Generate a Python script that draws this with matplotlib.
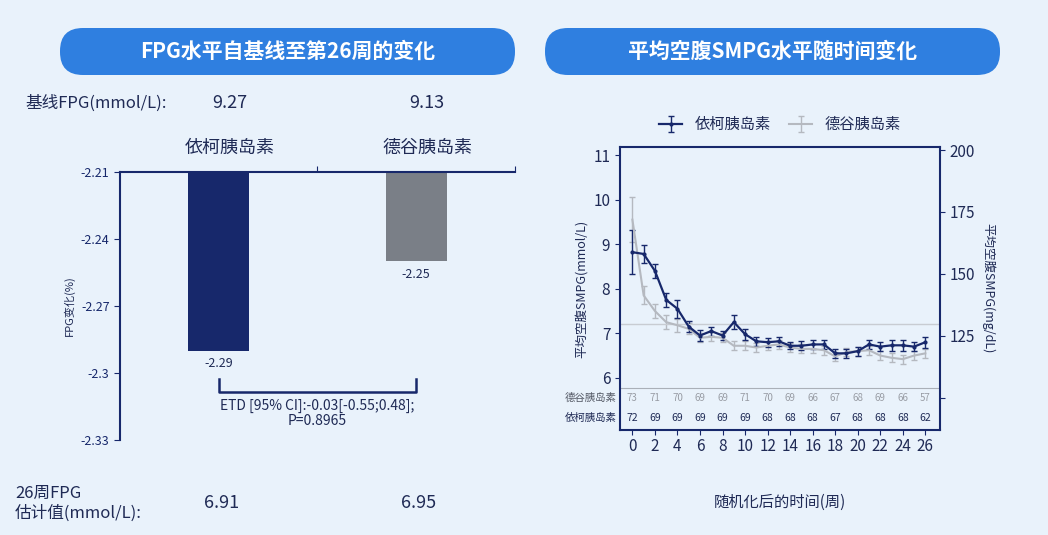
import matplotlib
matplotlib.use("Agg")
import matplotlib.pyplot as plt
from matplotlib.patches import FancyBboxPatch

plt.rcParams["font.family"] = ["Noto Sans CJK JP", "Noto Sans CJK SC", "Noto Sans CJK TC",
                               "Noto Sans CJK KR", "DejaVu Sans"]

# left panel data
groups = ["依柯胰岛素", "德谷胰岛素"]
fpg_change = [-2.29, -2.25]
baseline_fpg = ["9.27", "9.13"]
week26_fpg = ["6.91", "6.95"]
left_ticks = [-2.21, -2.24, -2.27, -2.3, -2.33]

# right panel data
weeks = list(range(27))
icodec = [8.82, 8.78, 8.4, 7.75, 7.55, 7.15, 6.95, 7.05, 6.95, 7.25, 6.98, 6.82, 6.8, 6.82,
          6.72, 6.72, 6.75, 6.75, 6.55, 6.55, 6.6, 6.75, 6.7, 6.73, 6.73, 6.7, 6.8]
icodec_err = [0.5, 0.2, 0.15, 0.15, 0.2, 0.12, 0.12, 0.1, 0.1, 0.15, 0.12, 0.1, 0.1, 0.1,
              0.08, 0.1, 0.1, 0.1, 0.1, 0.1, 0.1, 0.1, 0.1, 0.12, 0.12, 0.1, 0.12]
degludec = [9.55, 7.85, 7.5, 7.25, 7.18, 7.1, 6.9, 6.92, 6.9, 6.72, 6.72, 6.68, 6.72, 6.75,
            6.68, 6.65, 6.65, 6.62, 6.48, 6.58, 6.6, 6.62, 6.5, 6.45, 6.42, 6.5, 6.55]
degludec_err = [0.5, 0.2, 0.15, 0.15, 0.15, 0.12, 0.1, 0.1, 0.1, 0.1, 0.1, 0.1, 0.1, 0.1,
                0.1, 0.1, 0.1, 0.1, 0.1, 0.1, 0.1, 0.1, 0.1, 0.1, 0.1, 0.1, 0.1]
count_weeks = list(range(0, 27, 2))
n_degludec = [73, 71, 70, 69, 69, 71, 70, 69, 66, 67, 68, 69, 66, 57]
n_icodec = [72, 69, 69, 69, 69, 69, 68, 68, 68, 67, 68, 68, 68, 62]

navy = "#17286b"
text_c = "#1f2a55"
bg = "#e9f2fb"

fig = plt.figure(figsize=(10.48, 5.35), dpi=100, facecolor=bg)
W, H = 1048, 535


def fx(px):
    return px / W


def fy(py):
    return 1 - py / H


# background axes in pixel units for the title pills
axBg = fig.add_axes([0, 0, 1, 1])
axBg.set_xlim(0, W)
axBg.set_ylim(H, 0)
axBg.axis("off")
for x0, x1, title in [(60, 515, "FPG水平自基线至第26周的变化"), (545, 1000, "平均空腹SMPG水平随时间变化")]:
    pill = FancyBboxPatch((x0, 28), x1 - x0, 47, boxstyle="round,pad=0,rounding_size=23",
                          facecolor="#2f7fe0", edgecolor="none")
    axBg.add_patch(pill)
    axBg.text((x0 + x1) / 2, 51, title, color="white", fontsize=15, fontweight="bold",
              ha="center", va="center")

# left bar chart
axL = fig.add_axes([fx(120), fy(440), fx(395), (440 - 172) / H])
axL.set_facecolor(bg)
xpos = [0, 1]
axL.bar(xpos, [v - left_ticks[0] for v in fpg_change], bottom=left_ticks[0], width=0.31,
        color=[navy, "#7a7f87"])
axL.set_ylim(left_ticks[-1], left_ticks[0])
axL.set_xlim(-0.5, 1.5)
axL.set_yticks(left_ticks)
axL.set_yticklabels([str(t) for t in left_ticks], fontsize=9, color=text_c)
axL.xaxis.tick_top()
axL.set_xticks([0.5, 1.5])
axL.set_xticklabels([])
for s in ["right", "bottom"]:
    axL.spines[s].set_visible(False)
for s in ["left", "top"]:
    axL.spines[s].set_color(navy)
    axL.spines[s].set_linewidth(1.5)
axL.tick_params(colors=navy, length=4)
axL.set_ylabel("FPG变化(%)", fontsize=8, color=text_c)
for x, v in zip(xpos, fpg_change):
    axL.text(x, v - 0.003, str(v), ha="center", va="top", fontsize=9, color=text_c)
# bracket
axL.plot([0, 0, 1, 1], [-2.3025, -2.3085, -2.3085, -2.3025], color=navy, lw=1.8)
axL.text(0.5, -2.3115, "ETD [95% CI]:-0.03[-0.55;0.48];\nP=0.8965", ha="center", va="top",
         fontsize=10, color=text_c, linespacing=1.1)

bar_px = [220, 417]
fig.text(fx(25), fy(103), "基线FPG(mmol/L):", fontsize=12, color=text_c, va="center")
for px, g, b, w in zip(bar_px, groups, baseline_fpg, week26_fpg):
    fig.text(fx(px + 10), fy(103), b, fontsize=13, color=text_c, ha="center", va="center")
    fig.text(fx(px + 10), fy(148), g, fontsize=13, color=text_c, ha="center", va="center")
    fig.text(fx(px + 2), fy(503), w, fontsize=13, color=text_c, ha="center", va="center")
fig.text(fx(15), fy(503), "26周FPG\n估计值(mmol/L):", fontsize=12, color=text_c, va="center",
         linespacing=1.2)

# right line chart
axR = fig.add_axes([fx(620), fy(430), fx(320), (430 - 147) / H])
axR.set_facecolor(bg)
axR.errorbar(weeks, degludec, yerr=degludec_err, color="#b5b9c0", lw=1.5, capsize=2,
             elinewidth=1, label="德谷胰岛素")
axR.errorbar(weeks, icodec, yerr=icodec_err, color=navy, lw=1.6, capsize=2, elinewidth=1,
             label="依柯胰岛素", marker="o", markersize=2)
axR.axhline(7.2, color="#c8ccd2", lw=1)
axR.axhline(5.78, color="#aab0b8", lw=0.8)
axR.set_ylim(4.83, 11.18)
axR.set_xlim(-1.1, 27.3)
axR.set_yticks([6, 7, 8, 9, 10, 11])
axR.set_xticks(count_weeks)
axR.tick_params(axis="x", labelsize=11, colors=navy, labelcolor=text_c, pad=2)
axR.tick_params(axis="y", labelsize=11, colors=navy, labelcolor=text_c)
for s in axR.spines.values():
    s.set_color(navy)
    s.set_linewidth(1.5)
axR.set_ylabel("平均空腹SMPG(mmol/L)", fontsize=9, color=text_c)
for x, a, b in zip(count_weeks, n_degludec, n_icodec):
    axR.text(x, 5.55, str(a), ha="center", va="center", fontsize=7, color="#999da5")
    axR.text(x, 5.1, str(b), ha="center", va="center", fontsize=7.5, color=text_c)
axR.text(-1.4, 5.55, "德谷胰岛素", ha="right", va="center", fontsize=7.5, color="#555a66")
axR.text(-1.4, 5.1, "依柯胰岛素", ha="right", va="center", fontsize=7.5, color=text_c)
axR.set_xlabel("随机化后的时间(周)", fontsize=11, color=text_c, labelpad=28)
handles, labels = axR.get_legend_handles_labels()
axR.legend(handles[::-1], labels[::-1], loc="lower center", bbox_to_anchor=(0.5, 1.0), ncol=2,
           frameon=False, fontsize=11, labelcolor=text_c, handlelength=1.5, columnspacing=1.2)

ax2 = axR.twinx()
ax2.set_ylim(4.83 * 18, 11.18 * 18)
ax2.set_yticks([100, 125, 150, 175, 200])
ax2.set_yticklabels(["", "125", "150", "175", "200"])
ax2.tick_params(axis="y", labelsize=11, colors=navy, labelcolor=text_c)
ax2.set_ylabel("平均空腹SMPG(mg/dL)", fontsize=9, color=text_c, rotation=270, labelpad=14)
for s in ax2.spines.values():
    s.set_visible(False)

fig.savefig("out.png", dpi=100, facecolor=bg)
